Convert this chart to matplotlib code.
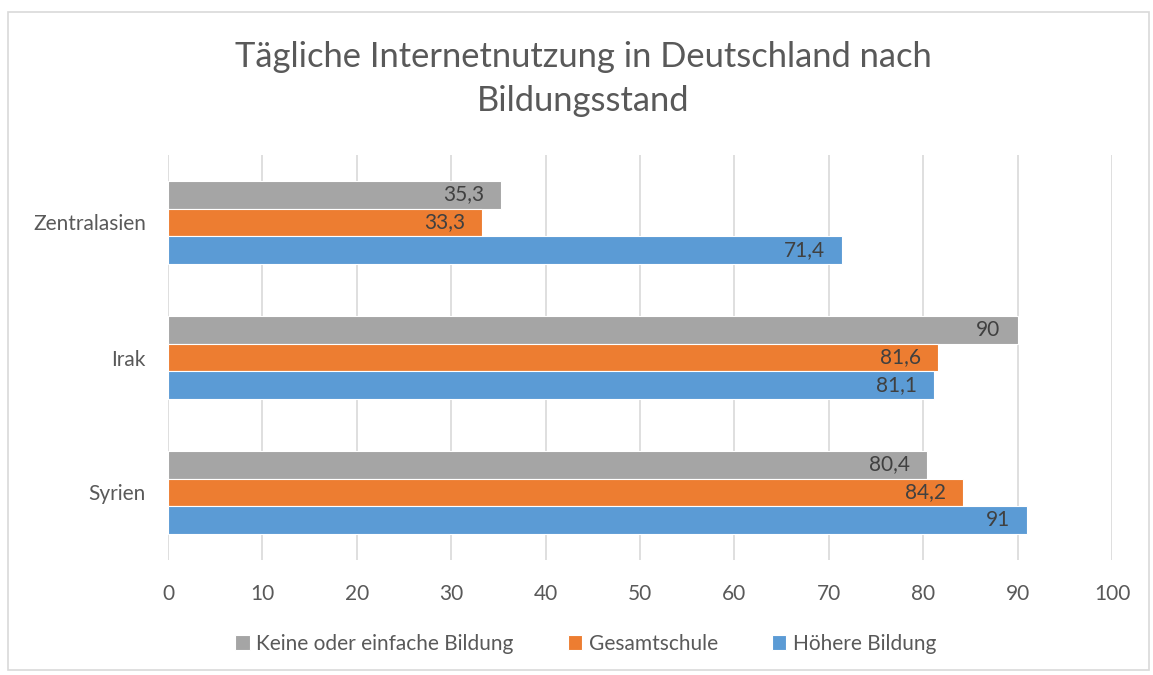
import numpy as np
import matplotlib.pyplot as plt
from matplotlib.patches import Rectangle

categories = ["Syrien", "Irak", "Zentralasien"]
series_names = ["Keine oder einfache Bildung", "Gesamtschule", "Höhere Bildung"]
keine = [80.4, 90, 35.3]
gesamt = [84.2, 81.6, 33.3]
hoehere = [91, 81.1, 71.4]
xticks = [0, 10, 20, 30, 40, 50, 60, 70, 80, 90, 100]

colours = ["#a5a5a5", "#ed7d31", "#5b9bd5"]
text_col = "#595959"

plt.rcParams['font.family'] = ['Lato', 'DejaVu Sans']

fig = plt.figure(figsize=(11.53, 6.75), dpi=100)
ax = fig.add_axes([168 / 1153, 1 - 560 / 675, (1112 - 168) / 1153, (560 - 155) / 675])

# chart frame
fig.patches.append(Rectangle((8 / 1153, 1 - 670 / 675), (1149 - 8) / 1153, (670 - 12) / 675,
                             transform=fig.transFigure, fill=False, edgecolor="#d9d9d9", linewidth=1.2))

y = np.arange(len(categories))
h = 0.207
offsets = [h, 0, -h]

for vals, name, col, off in zip([keine, gesamt, hoehere], series_names, colours, offsets):
    bars = ax.barh(y + off, vals, height=h, color=col, edgecolor="white", linewidth=0.8, label=name, zorder=3)
    for b, v in zip(bars, vals):
        ax.annotate(f"{v:g}".replace(".", ","), (b.get_width(), b.get_y() + b.get_height() / 2),
                    xytext=(-17, 0), textcoords="offset pixels", ha="right", va="center",
                    fontsize=15, color="#404040", zorder=4)

ax.set_xlim(0, 100)
ax.set_ylim(-0.5, 2.5)
ax.set_xticks(xticks)
ax.set_yticks(y)
ax.set_yticklabels(categories)
ax.tick_params(length=0, labelsize=15, labelcolor=text_col)
ax.tick_params(axis="x", pad=17)
ax.tick_params(axis="y", pad=16)
ax.grid(axis="x", color="#d9d9d9", linewidth=1.2, zorder=0)
for s in ax.spines.values():
    s.set_visible(False)

fig.text(0.506, 1 - 79 / 675, "Tägliche Internetnutzung in Deutschland nach\nBildungsstand",
         ha="center", va="center", fontsize=24.8, color=text_col, linespacing=1.45)

fig.legend(loc="center", bbox_to_anchor=(0.508, 1 - 644 / 675), ncol=3, frameon=False,
           fontsize=15, labelcolor=text_col, handlelength=0.7, handleheight=0.7,
           handletextpad=0.3, columnspacing=2.6)

fig.savefig("out.png", dpi=100)
